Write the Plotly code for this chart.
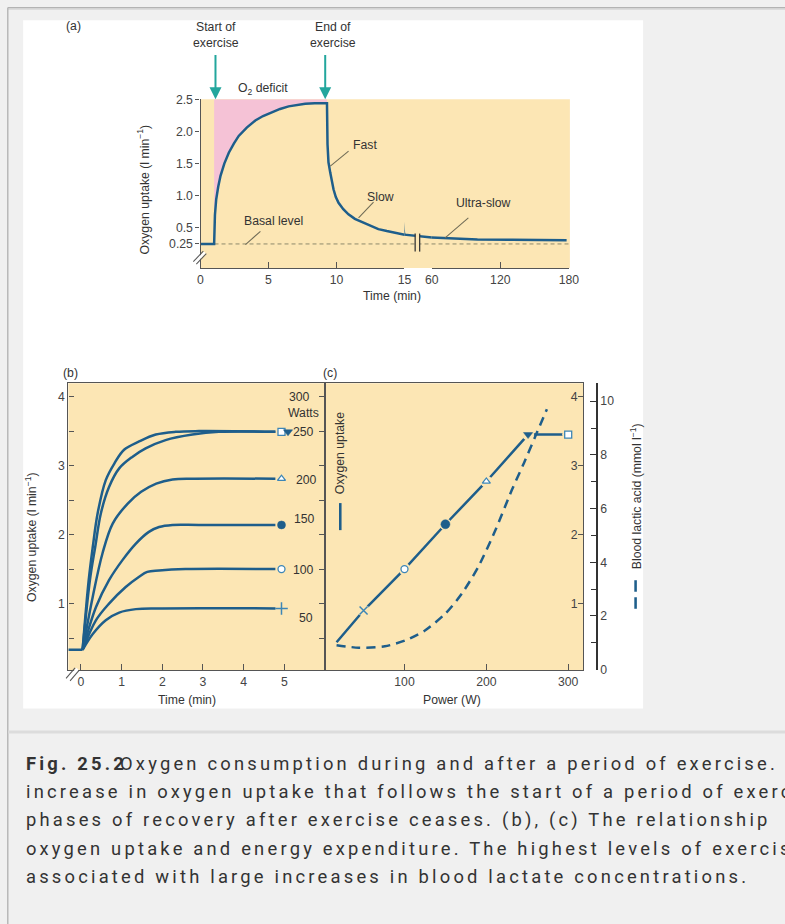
import plotly.graph_objects as go

W, H = 785, 924

# ---------------- data ----------------
# Panel (a): oxygen uptake during and after exercise
a_time = [0, 1.0, 1.06, 1.15, 1.3, 1.47, 1.75, 2.08, 2.45, 2.81, 3.4, 4.03, 4.6, 5.25, 5.85, 6.48, 7.1, 7.7, 8.4, 9.3,
          9.34, 9.41, 9.54, 9.65, 9.78, 9.95, 10.15, 10.5, 10.88, 11.35, 11.86, 12.45, 13.08, 13.7, 14.3, 15,
          60, 72, 100, 130, 178]
a_uptake = [0.25, 0.25, 0.70, 0.94, 1.14, 1.31, 1.50, 1.67, 1.81, 1.93, 2.06, 2.17, 2.24, 2.30, 2.35, 2.39, 2.415, 2.43, 2.44, 2.44,
            1.80, 1.52, 1.36, 1.22, 1.10, 0.98, 0.89, 0.79, 0.71, 0.64, 0.59, 0.53, 0.48, 0.45, 0.42, 0.395,
            0.35, 0.34, 0.32, 0.315, 0.306]
a_exercise_start = 1.0
a_exercise_end = 9.3
a_ceiling = 2.5
a_basal = 0.25
a_yticks = [0.25, 0.5, 1.0, 1.5, 2.0, 2.5]
a_yticktext = ["0.25", "0.5", "1.0", "1.5", "2.0", "2.5"]
a_xticks_left = [0, 5, 10, 15]
a_xticks_right = [60, 120, 180]

# Panel (b): oxygen uptake vs time at different powers
b_rest_time = [-0.31, 0.04]
b_rest_uptake = [0.33, 0.33]
b_watts = [300, 250, 200, 150, 100, 50]
b_time_300 = [0.04, 0.19, 0.29, 0.41, 0.61, 0.82, 1.06, 1.43, 1.84, 2.33, 2.90, 4.78]
b_up_300 = [0.33, 1.34, 1.82, 2.31, 2.79, 3.03, 3.23, 3.35, 3.45, 3.49, 3.50, 3.49]
b_time_250 = [0.04, 0.22, 0.35, 0.49, 0.69, 0.94, 1.27, 1.59, 2.08, 2.74, 3.39, 4.78]
b_up_250 = [0.33, 1.34, 1.82, 2.31, 2.69, 2.96, 3.13, 3.25, 3.37, 3.45, 3.49, 3.49]
b_time_200 = [0.04, 0.29, 0.53, 0.78, 1.15, 1.48, 1.85, 2.25, 2.80, 4.78]
b_up_200 = [0.33, 1.10, 1.73, 2.16, 2.45, 2.62, 2.74, 2.80, 2.81, 2.81]
b_time_150 = [0.04, 0.37, 0.69, 1.02, 1.35, 1.67, 1.92, 2.25, 2.90, 4.78]
b_up_150 = [0.33, 0.95, 1.34, 1.63, 1.87, 2.04, 2.11, 2.14, 2.14, 2.14]
b_time_100 = [0.04, 0.37, 0.69, 1.10, 1.43, 1.63, 1.92, 2.57, 4.78]
b_up_100 = [0.33, 0.76, 1.00, 1.24, 1.39, 1.46, 1.48, 1.50, 1.50]
b_time_50 = [0.04, 0.29, 0.61, 0.94, 1.35, 1.92, 4.78]
b_up_50 = [0.33, 0.56, 0.76, 0.87, 0.92, 0.93, 0.93]
b_marker_time = [4.93, 5.09, 4.93, 4.93, 4.93, 4.93]
b_marker_uptake = [3.49, 3.49, 2.81, 2.14, 1.50, 0.93]
b_marker_symbol = ["square", "triangle-down", "triangle-up", "circle", "circle", "cross-thin"]
b_marker_filled = [False, True, False, True, False, True]
b_xticks = [0, 1, 2, 3, 4, 5]
b_yticks = [1, 2, 3, 4]
b_yminor = [0.5, 1.5, 2.5, 3.5]

# Panel (c): oxygen uptake and blood lactate vs power
c_power = [17, 50, 100, 150, 200, 251, 300]
c_uptake = [0.44, 0.90, 1.50, 2.15, 2.77, 3.45, 3.45]
c_marker_power = [50, 100, 150, 200, 251, 300]
c_marker_uptake = [0.90, 1.50, 2.15, 2.77, 3.45, 3.45]
c_marker_symbol = ["x-thin", "circle", "circle", "triangle-up", "triangle-down", "square"]
c_marker_filled = [True, False, True, False, True, False]
c_lactic_power = [17, 44, 76, 101, 125, 150, 170, 190, 211, 231, 246, 260, 274]
c_lactic = [0.91, 0.82, 0.87, 1.09, 1.46, 2.09, 2.83, 3.82, 5.19, 6.68, 7.70, 8.70, 9.70]
c_xticks = [100, 200, 300]
c_yticks = [1, 2, 3, 4]
c_lactic_ticks = [0, 2, 4, 6, 8, 10]
c_lactic_minor = [1, 3, 5, 7, 9]

caption_lines = [
    "increase in oxygen uptake that follows the start of a period of exercise",
    "phases of recovery after exercise ceases. (b), (c) The relationship",
    "oxygen uptake and energy expenditure. The highest levels of exercise",
    "associated with large increases in blood lactate concentrations.",
]

# ---------------- style ----------------
# the photographed page is framed with an 8 px border and scaled to fit; compensate
SX, SY, OFF = 785 / 801, 924 / 940, 8
K = 1 / SX
FONT = "Liberation Sans, Arial, sans-serif"
FS = 12 * K
BEIGE = "#fce6b4"
PINK = "#f5c2d6"
BLUE = "#1e5e8b"
LIGHTBLUE = "#3d86b6"
TEAL = "#23a69d"
AXIS = "#555555"
TXT = "#333333"


def px(x):
    return (x / SX - OFF) / W


def py(y):
    return 1 - (y / SY - OFF) / H


shapes = []
annotations = []


def rect(x0, y0, x1, y1, color, layer="below"):
    shapes.append(dict(type="rect", xref="paper", yref="paper", x0=px(x0), x1=px(x1), y0=py(y1), y1=py(y0),
                       fillcolor=color, line=dict(width=0), layer=layer))


def seg(x0, y0, x1, y1, color, width=1, layer="above", dash=None):
    d = dict(color=color, width=width * K)
    if dash:
        d["dash"] = dash
    shapes.append(dict(type="line", xref="paper", yref="paper", x0=px(x0), y0=py(y0), x1=px(x1), y1=py(y1),
                       line=d, layer=layer))


def text(x, y, s, size=FS, color=TXT, angle=0, xanchor="center", family=FONT):
    annotations.append(dict(x=px(x), y=py(y), xref="paper", yref="paper", text=s, showarrow=False,
                            font=dict(family=family, size=size, color=color), textangle=angle,
                            xanchor=xanchor, yanchor="middle"))


# page background pieces
seg(8.5, 8.6, 800, 8.6, "#b3b3b3", 1.5, layer="below")
seg(8.5, 10, 800, 10, "#d6d6d6", 1.2, layer="below")
seg(8.6, 8.5, 8.6, 940, "#b9b9b9", 1.5, layer="below")
rect(24, 21, 645, 708, "#ffffff")
seg(9, 731.5, 800, 731.5, "#dcdcdc", 3, layer="below")
# beige plot areas
rect(201.7, 100, 571.7, 268.3, BEIGE)
rect(69.3, 383.3, 585, 670, BEIGE)

# basal dashed level (a)
shapes.append(dict(type="line", xref="paper", yref="y", x0=px(201.7), x1=px(571), y0=a_basal, y1=a_basal,
                   line=dict(color="#8e8a6c", width=1, dash="4px,3px"), layer="below"))

fig = go.Figure()

# ---- panel (a) ----
def_t = [t for t in a_time if a_exercise_start <= t <= a_exercise_end]
def_v = [v for t, v in zip(a_time, a_uptake) if a_exercise_start <= t <= a_exercise_end]
fig.add_trace(go.Scatter(x=def_t + [a_exercise_end, a_exercise_start], y=def_v + [a_ceiling, a_ceiling],
                         fill="toself", fillcolor=PINK, line=dict(width=0), mode="lines",
                         xaxis="x", yaxis="y", hoverinfo="skip"))
for xa in ["x", "x2", "x3"]:
    fig.add_trace(go.Scatter(x=a_time, y=a_uptake, mode="lines", line=dict(color=BLUE, width=2.5),
                             xaxis=xa, yaxis="y", hoverinfo="skip"))

# ---- panel (b) ----
fig.add_trace(go.Scatter(x=b_rest_time, y=b_rest_uptake, mode="lines", line=dict(color=BLUE, width=2.5),
                         xaxis="x4", yaxis="y4"))
for bt, bu in [(b_time_300, b_up_300), (b_time_250, b_up_250), (b_time_200, b_up_200),
               (b_time_150, b_up_150), (b_time_100, b_up_100), (b_time_50, b_up_50)]:
    fig.add_trace(go.Scatter(x=bt, y=bu, mode="lines", line=dict(color=BLUE, width=2.5, shape="spline",
                                                                  smoothing=1.0),
                             xaxis="x4", yaxis="y4"))
for t, u, s, f in zip(b_marker_time, b_marker_uptake, b_marker_symbol, b_marker_filled):
    size = 8 if s != "cross-thin" else 9
    if s == "cross-thin":
        mk = dict(symbol=s, size=size, line=dict(color=LIGHTBLUE, width=1.5))
    elif f:
        mk = dict(symbol=s, size=size, color=BLUE, line=dict(color=BLUE, width=0.5))
    else:
        mk = dict(symbol=s, size=size - 1, color="white", line=dict(color=LIGHTBLUE, width=1.3))
    fig.add_trace(go.Scatter(x=[t], y=[u], mode="markers", marker=mk, xaxis="x4", yaxis="y4"))

# ---- panel (c) ----
fig.add_trace(go.Scatter(x=c_power, y=c_uptake, mode="lines", line=dict(color=BLUE, width=2.5),
                         xaxis="x5", yaxis="y5"))
fig.add_trace(go.Scatter(x=c_marker_power, y=c_marker_uptake, mode="markers",
                         marker=dict(symbol="circle", size=12, color=BEIGE), xaxis="x5", yaxis="y5"))
for p, u, s, f in zip(c_marker_power, c_marker_uptake, c_marker_symbol, c_marker_filled):
    if s == "x-thin":
        mk = dict(symbol=s, size=8, line=dict(color=LIGHTBLUE, width=1.5))
    elif f:
        mk = dict(symbol=s, size=8 if s != "circle" else 9, color=BLUE, line=dict(color=BLUE, width=0.5))
    else:
        mk = dict(symbol=s, size=7, color="white", line=dict(color=LIGHTBLUE, width=1.3))
    fig.add_trace(go.Scatter(x=[p], y=[u], mode="markers", marker=mk, xaxis="x5", yaxis="y5"))
fig.add_trace(go.Scatter(x=c_lactic_power, y=c_lactic, mode="lines",
                         line=dict(color=BLUE, width=2.5, dash="9px,6px", shape="spline", smoothing=0.7),
                         xaxis="x5", yaxis="y6"))

# ---------------- axes ----------------
tickfont = dict(family=FONT, size=FS, color="#444444")
common = dict(showgrid=False, zeroline=False, showline=True, linecolor=AXIS, linewidth=1.3,
              tickcolor=AXIS, tickfont=tickfont, fixedrange=True)

a_ydom = [py(268.3), py(100)]
b_ydom = [py(670), py(383.3)]

fig.update_layout(
    xaxis=dict(domain=[px(201.7), px(406)], range=[0, 15], tickmode="array", tickvals=a_xticks_left,
               ticks="inside", ticklen=6, anchor="y", **common),
    xaxis2=dict(domain=[px(406), px(433.3)], range=[15, 60], visible=False, anchor="y", fixedrange=True),
    xaxis3=dict(domain=[px(433.3), px(570.7)], range=[60, 180], tickmode="array", tickvals=a_xticks_right,
                ticks="inside", ticklen=6, anchor="y", **common),
    yaxis=dict(domain=a_ydom, range=[-0.123, 2.5], tickmode="array", tickvals=a_yticks, ticktext=a_yticktext,
               ticks="outside", ticklen=4, anchor="x", **common),
    xaxis4=dict(domain=[px(69.3), px(326)], range=[-0.31, 5.99], tickmode="array", tickvals=b_xticks,
                ticks="inside", ticklen=6, mirror=True, anchor="y4", **common),
    yaxis4=dict(domain=b_ydom, range=[0.032, 4.195], tickmode="array", tickvals=b_yticks,
                minor=dict(tickvals=b_yminor, ticks="inside", ticklen=5, tickcolor=AXIS),
                ticks="inside", ticklen=5, mirror="ticks", anchor="x4", **common),
    xaxis5=dict(domain=[px(326), px(585)], range=[2.4, 318.3], tickmode="array", tickvals=c_xticks,
                ticks="inside", ticklen=6, mirror=True, anchor="y5", **common),
    yaxis5=dict(domain=b_ydom, range=[0.032, 4.195], tickmode="array", tickvals=c_yticks,
                ticks="inside", ticklen=5, side="right", mirror=True, ticklabelposition="inside",
                anchor="x5", **common),
    yaxis6=dict(range=[-0.026, 10.67], overlaying="y5", side="right", anchor="free", position=px(599),
                tickmode="array", tickvals=c_lactic_ticks, ticks="inside", ticklen=6,
                minor=dict(tickvals=c_lactic_minor, ticks="inside", ticklen=5, tickcolor="#333"),
                showgrid=False, zeroline=False, showline=True, linecolor="#333", linewidth=1.5,
                tickcolor="#333", tickfont=tickfont, fixedrange=True),
)

# ---------------- annotations: panel (a) ----------------
text(74, 27, "(a)")
text(216.7, 36, "Start of<br>exercise")
text(334, 36, "End of<br>exercise")
for t_arrow in [1.1, 9.17]:
    annotations.append(dict(x=t_arrow, y=a_ceiling, xref="x", yref="y", ax=0, ay=-45 / SY, text="",
                            showarrow=True, arrowhead=2, arrowsize=1.2, arrowwidth=2, arrowcolor=TEAL))
text(264, 90, "O<sub>2</sub> deficit")
text(366.7, 146, "Fast")
seg(350, 151.7, 331.7, 166.7, "#6e6a55", 1)
text(382.3, 197.3, "Slow")
seg(375, 202.7, 360, 218.3, "#6e6a55", 1)
text(485, 203.3, "Ultra-slow")
seg(470, 218.3, 446.7, 238.3, "#6e6a55", 1)
text(275, 221, "Basal level")
seg(261.7, 231.7, 246.7, 245, "#6e6a55", 1)
text(145, 190, "Oxygen uptake (l min<sup>−1</sup>)", angle=-90)
text(393.3, 296, "Time (min)")
# curve break "||"
rect(417, 233, 421, 253, BEIGE, layer="above")
seg(416.7, 234, 416.7, 252, "#3a3a3a", 1.3)
seg(421.2, 234, 421.2, 252, "#3a3a3a", 1.3)
# axis break "//" (a)
seg(196, 263.3, 206, 252.8, "#ffffff", 2.5)
seg(194.5, 262, 204.5, 251.5, AXIS, 1)
seg(197.5, 264.5, 207.5, 254, AXIS, 1)

# ---------------- annotations: panel (b) ----------------
text(71.7, 373.3, "(b)")
text(31.7, 537, "Oxygen uptake (l min<sup>−1</sup>)", angle=-90)
text(188.3, 700, "Time (min)")
text(313, 397.3, "300", xanchor="right")
text(305, 413, "Watts")
text(317, 431.7, "250", xanchor="right")
text(320, 480, "200", xanchor="right")
text(318, 519, "150", xanchor="right")
text(317, 570, "100", xanchor="right")
text(316.7, 618, "50", xanchor="right")
# axis break "//" (b)
seg(69, 679, 78.5, 668.5, "#ffffff", 3)
seg(67, 678, 76, 667.5, AXIS, 1)
seg(71, 680.5, 80, 670, AXIS, 1)

# ---------------- annotations: panel (c) ----------------
text(331.7, 373.3, "(c)")
text(341.7, 453, "Oxygen uptake", angle=-90)
seg(341.7, 503, 341.7, 530, BLUE, 2.5)
text(453.3, 700, "Power (W)")
text(637.5, 496.5, "Blood lactic acid (mmol l<sup>−1</sup>)", angle=-90)
seg(637.5, 580, 637.5, 591.5, BLUE, 2.5)
seg(637.5, 597, 637.5, 608.5, BLUE, 2.5)

# ---------------- caption ----------------
CAPFONT = "Roboto, Arial, sans-serif"
CAPFS = 18 * K
LS = "letter-spacing:3.2px"
annotations.append(dict(x=px(25), y=py(762.7), xref="paper", yref="paper", showarrow=False,
                        text=f'<span style="{LS}"><b>Fig. 25.2</b></span>', xanchor="left", yanchor="middle",
                        font=dict(family=CAPFONT, size=CAPFS, color=TXT)))
annotations.append(dict(x=px(119), y=py(762.7), xref="paper", yref="paper", showarrow=False,
                        text=f'<span style="{LS}">Oxygen consumption during and after a period of exercise.</span>',
                        xanchor="left", yanchor="middle", font=dict(family=CAPFONT, size=CAPFS, color=TXT)))
for i, line in enumerate(caption_lines):
    annotations.append(dict(x=px(25), y=py(791 + 28.33 * i), xref="paper", yref="paper", showarrow=False,
                            text=f'<span style="{LS}">{line}</span>', xanchor="left", yanchor="middle",
                            font=dict(family=CAPFONT, size=CAPFS, color=TXT)))

fig.update_layout(
    width=W, height=H, autosize=False,
    margin=dict(l=0, r=0, t=0, b=0),
    paper_bgcolor="#f0f0f0", plot_bgcolor="rgba(0,0,0,0)",
    showlegend=False, hovermode=False,
    shapes=shapes, annotations=annotations,
    font=dict(family=FONT, size=FS, color=TXT),
)

fig.write_html("out.html", config={"displayModeBar": False},
               post_script="document.body.style.margin='0';document.body.style.overflow='hidden';")
